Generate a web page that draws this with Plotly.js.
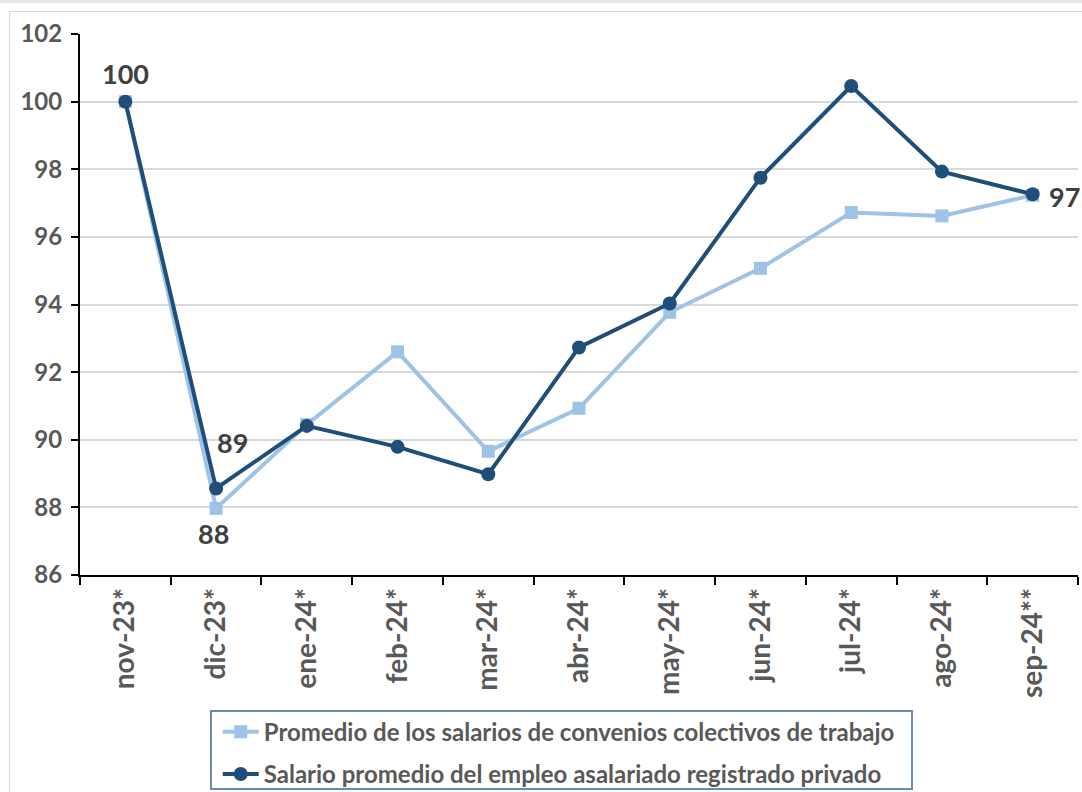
<!DOCTYPE html>
<html>
<head>
<meta charset="utf-8">
<script src="https://cdn.plot.ly/plotly-3.0.1.min.js"></script>
<style>
  html, body { margin: 0; padding: 0; background: #ffffff; overflow: hidden; width: 1082px; height: 792px; }
  #topband { position: absolute; left: 0; top: 0; width: 1082px; height: 3px; background: #e6e6e6; }
  #frame { position: absolute; left: 9px; top: 11px; width: 1072px; height: 780px; border-left: 1px solid #d9d9d9; border-top: 1px solid #d9d9d9; }
  #chart { position: absolute; left: 0; top: 0; width: 1082px; height: 792px; }
  #legendbox { position: absolute; left: 210px; top: 710px; width: 699px; height: 76px; border: 2px solid #6a8bb0; pointer-events: none; z-index: 5; box-sizing: content-box; }
</style>
</head>
<body>
<div id="topband"></div>
<div id="frame"></div>
<div id="chart"></div>
<div id="legendbox"></div>
<script>
const categories = ["nov-23*", "dic-23*", "ene-24*", "feb-24*", "mar-24*", "abr-24*", "may-24*", "jun-24*", "jul-24*", "ago-24*", "sep-24**"];
const convenios = [100, 87.97, 90.45, 92.60, 89.66, 90.93, 93.77, 95.07, 96.72, 96.62, 97.23];
const salarioPrivado = [100, 88.56, 90.41, 89.79, 88.98, 92.73, 94.03, 97.75, 100.46, 97.93, 97.26];
const seriesNames = ["Promedio de los salarios de convenios colectivos de trabajo", "Salario promedio del empleo asalariado registrado privado"];
const yTicks = [86, 88, 90, 92, 94, 96, 98, 100, 102];

const FONT = "Lato, 'Open Sans', sans-serif";
const GREY = "#595959";
const LABEL = "#404040";

const traces = [
  {
    x: categories, y: convenios, name: seriesNames[0], type: "scatter", mode: "lines+markers",
    line: { color: "#9dc3e6", width: 4 },
    marker: { symbol: "square", size: 13, color: "#9dc3e6" },
    legendgroup: "a", cliponaxis: false
  },
  {
    x: categories, y: salarioPrivado, name: seriesNames[1], type: "scatter", mode: "lines+markers",
    line: { color: "#1f4e79", width: 4 },
    marker: { symbol: "circle", size: 14, color: "#1f4e79" },
    legendgroup: "b", cliponaxis: false
  }
];

const annFont = { family: FONT, size: 27, color: LABEL, weight: "bold" };
const annotations = [
  { x: categories[0], y: salarioPrivado[0], text: String(Math.round(salarioPrivado[0])), showarrow: false, yshift: 28, font: annFont },
  { x: categories[1], y: salarioPrivado[1], text: String(Math.round(salarioPrivado[1])), showarrow: false, xshift: 16, yshift: 46, font: annFont },
  { x: categories[1], y: convenios[1], text: String(Math.round(convenios[1])), showarrow: false, xshift: -3, yshift: -25, font: annFont },
  { x: categories[10], y: salarioPrivado[10], text: String(Math.round(salarioPrivado[10])), showarrow: false, xanchor: "left", xshift: 14, yshift: -2, font: annFont }
];

const layout = {
  width: 1082, height: 792,
  margin: { l: 80, r: 4, t: 34, b: 217, autoexpand: false },
  paper_bgcolor: "rgba(0,0,0,0)",
  plot_bgcolor: "rgba(0,0,0,0)",
  showlegend: true,
  font: { family: FONT, color: GREY },
  xaxis: {
    type: "category",
    showline: true, linecolor: "#000000", linewidth: 2,
    ticks: "outside", tickson: "boundaries", ticklen: 8, tickwidth: 2, tickcolor: "#000000",
    tickangle: -90,
    tickfont: { family: FONT, size: 28, color: GREY, weight: "bold" },
    showgrid: false, zeroline: false,
    range: [-0.5, 10.5]
  },
  yaxis: {
    range: [86, 102],
    tickvals: yTicks,
    showline: true, linecolor: "#000000", linewidth: 2,
    ticks: "outside", ticklen: 7, tickwidth: 2, tickcolor: "#000000",
    tickfont: { family: FONT, size: 24, color: GREY, weight: "bold" },
    ticklabelstandoff: 4,
    showgrid: true, gridcolor: "#d9d9d9", gridwidth: 2,
    zeroline: false
  },
  legend: {
    x: 0.138, y: -0.249, xanchor: "left", yanchor: "top",
    orientation: "v",
    traceorder: "grouped", tracegroupgap: 8,
    borderwidth: 0,
    bgcolor: "rgba(0,0,0,0)",
    font: { family: FONT, size: 24, color: GREY, weight: "bold" },
    itemwidth: 36
  },
  annotations: annotations
};

Plotly.newPlot("chart", traces, layout, { displayModeBar: false, staticPlot: true });
</script>
</body>
</html>
